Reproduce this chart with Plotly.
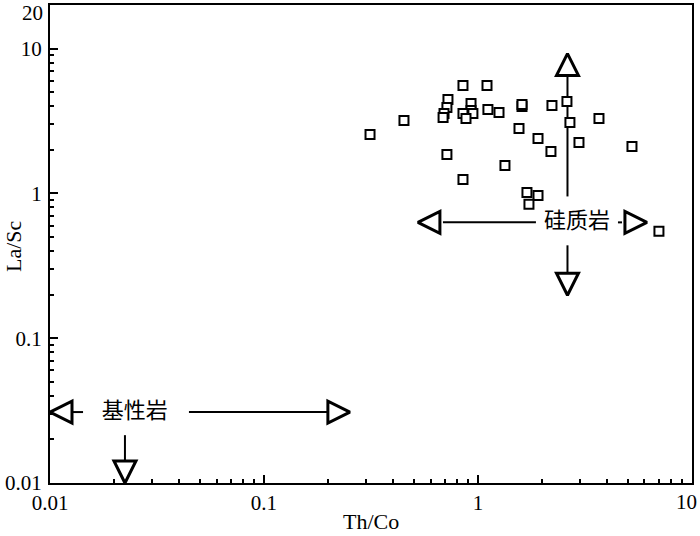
import numpy as np
import plotly.graph_objects as go

# Sample data (Th/Co vs La/Sc)
th_co = [0.313, 0.451, 0.851, 1.102, 0.724, 0.716, 0.694, 0.687, 0.928, 0.928,
         0.851, 0.947, 0.879, 1.113, 1.254, 1.606, 1.606, 1.555, 1.908, 0.716,
         1.337, 0.851, 1.694, 1.908, 1.731, 2.217, 2.605, 2.690, 3.677, 2.193,
         2.965, 5.244, 7.010]
la_sc = [2.55, 3.19, 5.56, 5.56, 4.45, 3.92, 3.56, 3.34, 4.18, 3.74,
         3.56, 3.56, 3.29, 3.80, 3.62, 3.98, 4.11, 2.81, 2.39, 1.86,
         1.56, 1.25, 1.016, 0.969, 0.84, 4.05, 4.31, 3.09, 3.29, 1.95,
         2.25, 2.11, 0.547]

# Field labels
field_names = ["硅质岩", "基性岩"]
field_x = [2.90, 0.0249]
field_y = [0.631, 0.0309]

# Arrow shafts (x pairs, y pairs)
shaft_x = [[2.62, 2.62], [2.62, 2.62], [0.686, 1.866], [4.51, 4.71],
           [0.0128, 0.01427], [0.0446, 0.197], [0.0224, 0.0224]]
shaft_y = [[0.953, 6.51], [0.438, 0.285], [0.631, 0.631], [0.631, 0.631],
           [0.0309, 0.0309], [0.0309, 0.0309], [0.0214, 0.0144]]

# Arrow heads (tip positions and direction)
head_x = [2.62, 2.62, 0.524, 6.16, 0.01, 0.252, 0.0224]
head_y = [9.24, 0.198, 0.631, 0.631, 0.0309, 0.0309, 0.01]
head_sym = ["arrow-up", "arrow-down", "arrow-left", "arrow-right",
            "arrow-left", "arrow-right", "arrow-down"]

x_major = [0.01, 0.1, 1, 10]
x_major_text = ["0.01", "0.1", "1", ""]
x_end_label = "10"
y_major = [0.01, 0.1, 1, 10, 20]
y_major_text = ["0.01", "0.1", "1", "10", ""]
y_top_label = "20"
minor_vals = [m * 10.0 ** e for e in range(-2, 1) for m in range(2, 10)]

fig = go.Figure()

for sx, sy in zip(shaft_x, shaft_y):
    fig.add_trace(go.Scatter(x=sx, y=sy, mode="lines",
                             line=dict(color="black", width=2),
                             showlegend=False, hoverinfo="skip", cliponaxis=False))

fig.add_trace(go.Scatter(x=head_x, y=head_y, mode="markers",
                         marker=dict(symbol=head_sym, size=22, color="white",
                                     line=dict(color="black", width=3)),
                         showlegend=False, hoverinfo="skip", cliponaxis=False))

fig.add_trace(go.Scatter(x=field_x, y=field_y, mode="text", text=field_names,
                         textfont=dict(family="Noto Sans CJK SC", size=22, color="black"),
                         showlegend=False, hoverinfo="skip", cliponaxis=False))

fig.add_trace(go.Scatter(x=th_co, y=la_sc, mode="markers",
                         marker=dict(symbol="square", size=9, color="white",
                                     line=dict(color="black", width=2)),
                         showlegend=False, cliponaxis=False))

axis_common = dict(type="log", showline=True, linecolor="black", linewidth=2,
                   mirror=True, showgrid=False, zeroline=False, automargin=False,
                   ticks="inside", ticklen=8, tickwidth=1.5, tickcolor="black",
                   tickfont=dict(family="Liberation Serif", size=21, color="black"))

fig.update_xaxes(**axis_common, range=[-2, 1.0002], tickmode="array",
                 tickvals=x_major, ticktext=x_major_text, ticklabelstandoff=0,
                 minor=dict(tickmode="array", tickvals=minor_vals, ticks="inside",
                            ticklen=4, tickwidth=1.5, tickcolor="black"))
fig.update_yaxes(**axis_common, range=[-2, np.log10(20) + 0.0002], tickmode="array",
                 tickvals=y_major, ticktext=y_major_text, ticklabelstandoff=2,
                 minor=dict(tickmode="array", tickvals=minor_vals, ticks="inside",
                            ticklen=4, tickwidth=1.5, tickcolor="black"))

label_font = dict(family="Liberation Serif", size=21, color="black")
fig.add_annotation(text=y_top_label, xref="paper", yref="paper", x=0, y=1,
                   xanchor="right", yanchor="middle", xshift=-5, yshift=-8,
                   showarrow=False, font=label_font)
fig.add_annotation(text=x_end_label, xref="paper", yref="paper", x=1, y=0,
                   xanchor="right", yanchor="top", xshift=7, yshift=-5,
                   showarrow=False, font=label_font)
fig.add_annotation(text="La/Sc", xref="paper", yref="paper", x=-0.056, y=0.496,
                   xanchor="center", yanchor="middle",
                   textangle=-90, showarrow=False,
                   font=dict(family="Liberation Serif", size=22, color="black"))
fig.add_annotation(text="Th/Co", xref="paper", yref="paper", x=0.5, y=-0.08,
                   xanchor="center", yanchor="middle",
                   showarrow=False,
                   font=dict(family="Liberation Serif", size=22, color="black"))

fig.update_layout(width=700, height=536, margin=dict(l=50, r=8, t=5, b=53),
                  plot_bgcolor="white", paper_bgcolor="white")

fig.write_html("out.html", config={"displayModeBar": False},
               post_script="document.body.style.margin='0px';")
